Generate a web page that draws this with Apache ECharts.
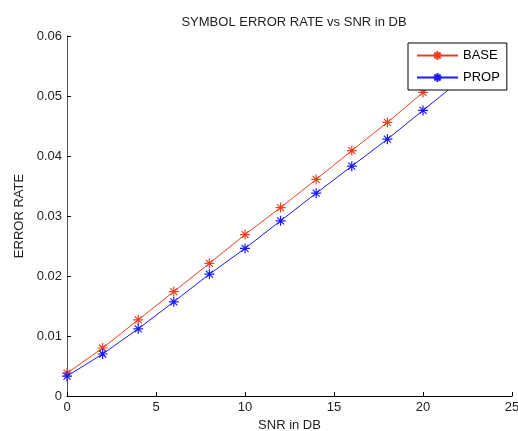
<!DOCTYPE html>
<html>
<head>
<meta charset="utf-8">
<script src="https://cdn.jsdelivr.net/npm/echarts@6/dist/echarts.min.js"></script>
<style>html,body{margin:0;padding:0;background:#fff}#c{width:518px;height:431px}</style>
</head>
<body>
<div id="c"></div>
<script>
var snr = [0, 2, 4, 6, 8, 10, 12, 14, 16, 18, 20, 22];
var baseVals = [0.0038, 0.0080, 0.0127, 0.0174, 0.0221, 0.0269, 0.0314, 0.0361, 0.0409, 0.0456, 0.0506, 0.0556];
var propVals = [0.0033, 0.0070, 0.0112, 0.0157, 0.0203, 0.0246, 0.0292, 0.0338, 0.0383, 0.0428, 0.0476, 0.0524];
var xTicks = [0, 5, 10, 15, 20, 25];
var yTicks = [0, 0.01, 0.02, 0.03, 0.04, 0.05, 0.06];
var seriesNames = ['BASE', 'PROP'];

var star = 'path://M0,-1L0,1M-1,0L1,0M-0.7,-0.7L0.7,0.7M-0.7,0.7L0.7,-0.7';
var font = 'Liberation Sans, Arial, sans-serif';

function pairs(xs, ys) { return xs.map(function (x, i) { return [x, ys[i]]; }); }

function mkSeries(name, vals, color) {
  return {
    name: name, type: 'line', data: pairs(snr, vals),
    symbol: star, symbolSize: 10,
    lineStyle: { color: color, width: 1 },
    itemStyle: { color: 'rgba(0,0,0,0)', borderColor: color, borderWidth: 1.2 },
    emphasis: { disabled: true }, animation: false
  };
}

var chart = echarts.init(document.getElementById('c'));
chart.setOption({
  animation: false,
  backgroundColor: '#fff',
  title: {
    text: 'SYMBOL ERROR RATE vs SNR in DB', left: 289, top: 11, textAlign: 'center',
    textStyle: { fontFamily: font, fontSize: 13, fontWeight: 'normal', color: '#222' }
  },
  legend: {
    data: seriesNames, orient: 'vertical', left: 408, top: 43,
    backgroundColor: '#fff', borderColor: '#000', borderWidth: 1, borderRadius: 0,
    padding: [6, 7, 6, 8], itemWidth: 41, itemHeight: 11, itemGap: 9,
    textStyle: { fontFamily: font, fontSize: 13, color: '#000' }
  },
  grid: { left: 67, right: 6, top: 36, bottom: 35, outerBoundsMode: 'none', containLabel: false },
  xAxis: {
    type: 'value', min: xTicks[0], max: xTicks[xTicks.length - 1], interval: 5,
    name: 'SNR in DB', nameLocation: 'middle', nameGap: 19,
    nameTextStyle: { fontFamily: font, fontSize: 13, color: '#222' },
    axisLine: { lineStyle: { color: '#000', width: 1 } },
    axisTick: { inside: true, length: 4, lineStyle: { color: '#000' } },
    axisLabel: { fontFamily: font, fontSize: 13, color: '#222', margin: 5 },
    splitLine: { show: false }
  },
  yAxis: {
    type: 'value', min: yTicks[0], max: yTicks[yTicks.length - 1], interval: 0.01,
    name: 'ERROR RATE', nameLocation: 'middle', nameGap: 38, nameRotate: 90,
    nameTextStyle: { fontFamily: font, fontSize: 13, color: '#222' },
    axisLine: { show: true, lineStyle: { color: '#555', width: 1 } },
    axisTick: { show: true, inside: true, length: 4, lineStyle: { color: '#000' } },
    axisLabel: { fontFamily: font, fontSize: 13, color: '#222', margin: 5 },
    splitLine: { show: false }
  },
  series: [
    mkSeries(seriesNames[0], baseVals, '#e8401e'),
    mkSeries(seriesNames[1], propVals, '#1a1aff')
  ]
});
</script>
</body>
</html>
